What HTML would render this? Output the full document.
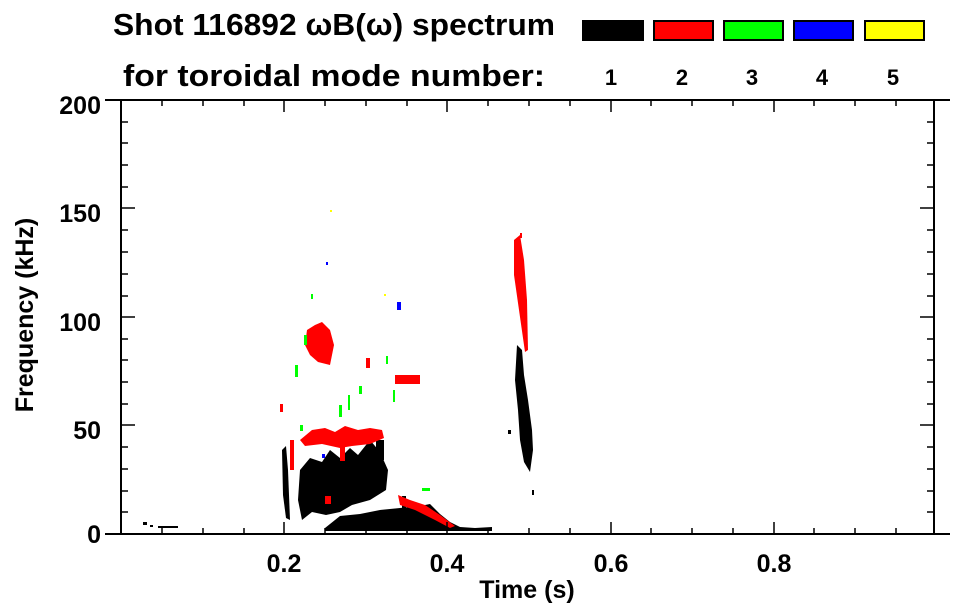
<!DOCTYPE html>
<html><head><meta charset="utf-8"><style>
html,body{margin:0;padding:0;background:#fff;width:963px;height:615px;overflow:hidden}
svg{display:block}
text{font-family:"Liberation Sans",sans-serif;font-weight:bold;fill:#000}
</style></head><body>
<svg width="963" height="615" viewBox="0 0 963 615" xmlns="http://www.w3.org/2000/svg">
<text x="113" y="35" font-size="31" textLength="442" lengthAdjust="spacingAndGlyphs">Shot 116892 ωB(ω) spectrum</text>
<text x="123" y="86" font-size="31" textLength="422" lengthAdjust="spacingAndGlyphs">for toroidal mode number:</text>
<rect x="582" y="20" width="62" height="21" fill="#000"/>
<rect x="654" y="21" width="59" height="19" fill="#f00" stroke="#000" stroke-width="2"/>
<rect x="724" y="21" width="59" height="19" fill="#0f0" stroke="#000" stroke-width="2"/>
<rect x="794" y="21" width="59" height="19" fill="#00f" stroke="#000" stroke-width="2"/>
<rect x="865" y="21" width="59" height="19" fill="#ff0" stroke="#000" stroke-width="2"/>
<g font-size="22" text-anchor="middle">
<text x="611" y="85">1</text><text x="682" y="85">2</text><text x="752" y="85">3</text><text x="822" y="85">4</text><text x="893" y="85">5</text>
</g>
<g>
<polygon fill="#000" points="282,450 286,446 288,470 290,520 286,518 283,495"/>
<polygon fill="#000" points="300,470 310,458 322,462 330,450 340,458 350,448 358,455 370,440 380,452 388,470 386,490 370,500 352,505 340,512 326,515 312,512 302,520 298,500"/>
<polygon fill="#000" points="325,528 340,516 360,514 380,510 400,508 420,506 430,504 440,514 450,522 460,527 475,528 492,527 492,531 325,531"/>
<rect x="376" y="440" width="8" height="20" fill="#000"/>
<rect x="402" y="496" width="4" height="14" fill="#000"/>
<polygon fill="#000" points="517,345 522,350 524,375 528,400 532,430 533,450 530,472 524,462 520,440 518,410 515,380"/>
<rect x="508" y="430" width="3" height="4" fill="#000"/>
<rect x="143" y="522" width="4" height="3" fill="#000"/><rect x="150" y="525" width="3" height="2" fill="#000"/>
<rect x="158" y="526" width="20" height="2" fill="#000"/>
<rect x="532" y="490" width="2" height="5" fill="#000"/>
<polygon fill="#f00" points="307,330 315,325 322,322 330,330 334,345 330,365 318,362 310,355 305,345"/>
<polygon fill="#f00" points="300,440 312,430 325,428 335,432 345,426 358,430 370,428 382,430 384,438 370,444 352,446 340,448 322,444 305,446"/>
<rect x="340" y="445" width="5" height="16" fill="#f00"/>
<rect x="290" y="440" width="4" height="30" fill="#f00"/>
<rect x="280" y="404" width="3" height="8" fill="#f00"/>
<rect x="395" y="375" width="25" height="9" fill="#f00"/>
<rect x="366" y="358" width="4" height="10" fill="#f00"/>
<polygon fill="#f00" points="514,240 520,235 524,260 527,300 528,350 525,352 519,310 514,275"/>
<rect x="520" y="233" width="2" height="5" fill="#f00"/>
<polygon fill="#f00" points="398,495 410,500 425,505 440,515 455,526 450,528 435,520 415,510 400,505"/>
<rect x="325" y="496" width="6" height="8" fill="#f00"/>
<rect x="311" y="294" width="2" height="5" fill="#0f0"/><rect x="304" y="335" width="3" height="10" fill="#0f0"/>
<rect x="295" y="365" width="3" height="12" fill="#0f0"/><rect x="359" y="386" width="3" height="8" fill="#0f0"/>
<rect x="348" y="395" width="2" height="15" fill="#0f0"/><rect x="339" y="405" width="3" height="12" fill="#0f0"/>
<rect x="393" y="390" width="2" height="12" fill="#0f0"/><rect x="300" y="425" width="3" height="6" fill="#0f0"/>
<rect x="386" y="356" width="2" height="8" fill="#0f0"/><rect x="422" y="488" width="8" height="3" fill="#0f0"/>
<rect x="397" y="302" width="4" height="8" fill="#00f"/><rect x="326" y="262" width="2" height="3" fill="#00f"/>
<rect x="322" y="454" width="3" height="4" fill="#00f"/>
<rect x="384" y="294" width="2" height="2" fill="#ff0"/><rect x="330" y="210" width="2" height="2" fill="#ff0"/>
</g>
<g stroke="#000" stroke-width="2" fill="none">
<line x1="105" y1="100" x2="950" y2="100"/>
<line x1="105" y1="534" x2="950" y2="534"/>
<line x1="121" y1="100" x2="121" y2="534"/>
<line x1="934" y1="100" x2="934" y2="534"/>
</g>
<g stroke="#000" stroke-width="1.5">
<path d="M162,534v-6M203,534v-6M244,534v-6M325,534v-6M366,534v-6M407,534v-6M488,534v-6M529,534v-6M570,534v-6M651,534v-6M692,534v-6M733,534v-6M814,534v-6M855,534v-6M896,534v-6"/>
<path d="M284,534v-12M447,534v-12M611,534v-12M774,534v-12"/>
<path d="M162,100v6M203,100v6M244,100v6M325,100v6M366,100v6M407,100v6M488,100v6M529,100v6M570,100v6M651,100v6M692,100v6M733,100v6M814,100v6M855,100v6M896,100v6"/>
<path d="M284,100v12M447,100v12M611,100v12M774,100v12"/>
<path d="M121,122h7M121,143h7M121,165h7M121,187h7M121,230h7M121,252h7M121,274h7M121,296h7M121,339h7M121,360h7M121,382h7M121,404h7M121,447h7M121,469h7M121,491h7M121,512h7"/>
<path d="M121,208h14M121,317h14M121,425h14"/>
<path d="M934,122h-7M934,143h-7M934,165h-7M934,187h-7M934,230h-7M934,252h-7M934,274h-7M934,296h-7M934,339h-7M934,360h-7M934,382h-7M934,404h-7M934,447h-7M934,469h-7M934,491h-7M934,512h-7"/>
<path d="M934,208h-14M934,317h-14M934,425h-14"/>
</g>
<g font-size="25" text-anchor="end">
<text x="101" y="114">200</text><text x="101" y="222">150</text><text x="101" y="331">100</text><text x="101" y="439">50</text><text x="101" y="543">0</text>
</g>
<g font-size="25" text-anchor="middle">
<text x="284" y="572">0.2</text><text x="447" y="572">0.4</text><text x="611" y="572">0.6</text><text x="774" y="572">0.8</text>
</g>
<text x="527" y="598" font-size="25" text-anchor="middle">Time (s)</text>
<text transform="translate(33,315) rotate(-90)" font-size="25" text-anchor="middle">Frequency (kHz)</text>
</svg>
</body></html>
